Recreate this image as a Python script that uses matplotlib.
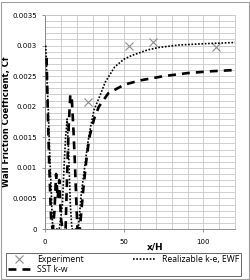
import matplotlib.pyplot as plt
import numpy as np

# experiment points
exp_x = [27, 53, 68, 108]
exp_cf = [0.00208, 0.00300, 0.00306, 0.00297]

# Realizable k-e, EWF
rke_x = [0.5, 1, 2, 3, 4, 4.5, 5, 7, 9, 11, 12, 13, 14, 15, 16, 17, 21, 23, 25, 27, 29, 31, 35,
         38, 44, 50, 55, 65, 72, 85, 100, 120]
rke_cf = [0.0030, 0.0026, 0.0020, 0.0012, 0.0006, 0.0002, 0.0, 0.0, 0.0, 0.0004, 0.0010, 0.0015,
          0.0018, 0.0012, 0.0004, 0.0, 0.0, 0.0006, 0.0010, 0.0014, 0.0017, 0.00195, 0.0022,
          0.0024, 0.00265, 0.00278, 0.00284, 0.00293, 0.00297, 0.00301, 0.00303, 0.00305]

# SST k-w
sst_x = [1.0, 1.5, 2.0, 2.5, 3.0, 3.5, 4.0, 5, 6, 7, 8, 9, 10, 11, 13, 14, 15, 16, 17, 18, 19,
         20, 20.5, 22, 24, 26, 28, 31, 34, 40, 50, 60, 75, 90, 105, 120]
sst_cf = [0.00280, 0.0022, 0.0017, 0.0012, 0.0008, 0.0004, 0.0001, 0.0, 0.0003, 0.0009, 0.0005,
          0.0008, 0.0002, 0.0, 0.0, 0.0009, 0.0017, 0.0022, 0.0021, 0.0016, 0.0010, 0.0003, 0.0,
          0.0, 0.0006, 0.0011, 0.0015, 0.0018, 0.0020, 0.00222, 0.00236, 0.00243, 0.00250,
          0.00255, 0.00258, 0.00260]

fig = plt.figure(figsize=(2.51, 2.80), dpi=100)
ax = fig.add_axes([45/251, 1-229/280, 190/251, 214/280])

h_exp, = ax.plot(exp_x, exp_cf, linestyle='none', marker='x', color='#8c8c8c', markersize=6,
                 markeredgewidth=0.8, label='Experiment', zorder=3)
h_rke, = ax.plot(rke_x, rke_cf, color='black', linestyle=(0, (1, 1)), linewidth=1.2,
                 label='Realizable k-e, EWF', zorder=4)
h_sst, = ax.plot(sst_x, sst_cf, color='black', linestyle=(0, (3, 2.3)), linewidth=1.9,
                 label='SST k-w', zorder=4)

ax.set_xlim(0, 120)
ax.set_ylim(0, 0.0035)
ax.set_xticks([0, 50, 100])
ax.set_xticks(np.arange(0, 121, 10), minor=True)
ax.set_yticks(np.arange(0, 0.00351, 0.0005))
ax.set_yticks(np.arange(0, 0.00351, 0.0001), minor=True)
ax.set_yticklabels(['0', '0.0005', '0.001', '0.0015', '0.002', '0.0025', '0.003', '0.0035'])
ax.grid(True, which='both', color='#c8c8c8', linewidth=0.6)
ax.set_axisbelow(True)
ax.tick_params(axis='both', which='major', labelsize=5, length=2, width=0.6,
               color='#808080', pad=4)
ax.tick_params(axis='x', pad=5)
ax.tick_params(axis='both', which='minor', length=0)
for s in ax.spines.values():
    s.set_color('#c8c8c8')
    s.set_linewidth(0.6)
ax.spines['left'].set_color('#808080')
ax.spines['bottom'].set_color('#808080')

ax.set_ylabel('Wall Friction Coefficient, Cf', fontsize=6, fontweight='bold')
ax.yaxis.set_label_coords(-0.18, 0.5)
ax.set_xlabel('x/H', fontsize=6.5, fontweight='bold')
ax.xaxis.set_label_coords(0.58, -0.065)

# column-first fill: Experiment / SST in col 1, Realizable in col 2
leg = fig.legend([h_exp, h_sst, h_rke], ['Experiment', 'SST k-w', 'Realizable k-e, EWF'],
                 loc='lower left', bbox_to_anchor=(6/251, 4/280, 235/251, 24/280),
                 mode='expand', ncol=2, frameon=True, fancybox=False,
                 borderpad=0.2, labelspacing=0.15, handlelength=2.6, handletextpad=0.8,
                 borderaxespad=0, columnspacing=1.0, prop={'family': 'Open Sans', 'size': 6.2})
leg.get_frame().set_edgecolor('#404040')
leg.get_frame().set_linewidth(0.7)

fig.patches.append(plt.Rectangle((1/251, 1/280), 248/251, 277/280, transform=fig.transFigure,
                                 fill=False, edgecolor='#a0a0a0', linewidth=0.8))

fig.savefig('out.png', dpi=100)
